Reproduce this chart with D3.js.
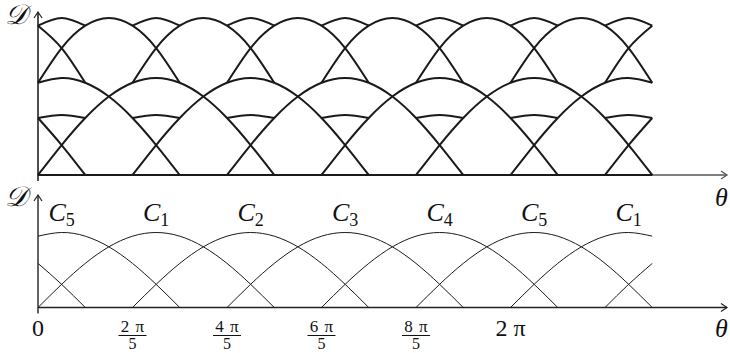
<!DOCTYPE html>
<html><head><meta charset="utf-8">
<script src="https://cdn.jsdelivr.net/npm/d3@7"></script>
<style>
html,body{margin:0;padding:0;background:#fff;}
svg{display:block;}
text{font-family:"Liberation Serif","DejaVu Serif",serif;fill:#111;}
</style></head><body>
<svg id="chart" width="730" height="353"></svg>
<script>
// Sampling step along θ (radians)
const thetaStep = Math.PI / 10;
// D for one camera over the half-turn where it sees the point, sampled every π/10
const archProfile = [0, 0.309, 0.588, 0.809, 0.951, 1, 0.951, 0.809, 0.588, 0.309, 0];
// Cameras whose visibility window overlaps the plotted range; start in π/10 steps
const archNames = ["C4", "C5", "C1", "C2", "C3", "C4", "C5", "C1", "C2"];
const archStarts = [-8, -4, 0, 4, 8, 12, 16, 20, 24];
// Plotted θ range, in π/10 steps
const thetaRange = [0, 26];
// x-axis ticks (π/10 steps) and their labels: numerator / denominator
const tickSteps = [0, 4, 8, 12, 16, 20];
const tickTop = ["0", "2 π", "4 π", "6 π", "8 π", "2 π"];
const tickBottom = ["", "5", "5", "5", "5", ""];

const svg = d3.select("#chart");

const x = d3.scaleLinear().domain([0, 2 * Math.PI]).range([38, 510.5]);
const yTop = d3.scaleLinear().domain([0, 1]).range([175, 78]);
const yBot = d3.scaleLinear().domain([0, 1]).range([307.5, 232.5]);

function archValue(i, k) {
  const j = k - archStarts[i];
  return (j >= 0 && j < archProfile.length) ? archProfile[j] : null;
}

// ---------- axes ----------
function arrowRight(g, x1, y, color, w) {
  g.append("path")
    .attr("d", `M${x1 - 6},${y - 4}L${x1},${y}L${x1 - 6},${y + 4}`)
    .attr("fill", "none").attr("stroke", color).attr("stroke-width", w);
}
function arrowUp(g, xx, y1, color, w) {
  g.append("path")
    .attr("d", `M${xx - 4},${y1 + 6}L${xx},${y1}L${xx + 4},${y1 + 6}`)
    .attr("fill", "none").attr("stroke", color).attr("stroke-width", w);
}

const axes = svg.append("g");
const x0 = x(0), xEnd = 727;

// top panel axes
axes.append("line").attr("x1", x0).attr("x2", xEnd).attr("y1", yTop(0)).attr("y2", yTop(0))
  .attr("stroke", "#555").attr("stroke-width", 1.4);
arrowRight(axes, xEnd, yTop(0), "#555", 1.3);
axes.append("line").attr("x1", x0).attr("x2", x0).attr("y1", yTop(0) + 6).attr("y2", 12)
  .attr("stroke", "#222").attr("stroke-width", 1.6);
arrowUp(axes, x0, 12, "#222", 1.2);

// bottom panel axes
axes.append("line").attr("x1", x0).attr("x2", xEnd).attr("y1", yBot(0)).attr("y2", yBot(0))
  .attr("stroke", "#222").attr("stroke-width", 1.4);
arrowRight(axes, xEnd, yBot(0), "#222", 1.2);
axes.append("line").attr("x1", x0).attr("x2", x0).attr("y1", yBot(0) + 6).attr("y2", 195)
  .attr("stroke", "#222").attr("stroke-width", 1.4);
arrowUp(axes, x0, 195, "#222", 1.2);

// ---------- bottom panel: each camera on its own ----------
const lineBot = d3.line()
  .x(d => x(d.k * thetaStep)).y(d => yBot(d.v))
  .curve(d3.curveNatural);

const botCurves = archStarts.map((s, i) => {
  const lo = Math.max(s, thetaRange[0]);
  const hi = Math.min(s + archProfile.length - 1, thetaRange[1]);
  const pts = [];
  for (let k = lo; k <= hi; k++) pts.push({ k, v: archValue(i, k) });
  return pts;
}).filter(p => p.length > 1);

svg.append("g").selectAll("path").data(botCurves).join("path")
  .attr("d", lineBot).attr("fill", "none")
  .attr("stroke", "#1a1a1a").attr("stroke-width", 1);

// ---------- top panel: every sum over a set of cameras seeing the point together ----------
const lineTop = d3.line()
  .x(d => x(d.k * thetaStep)).y(d => yTop(d.v))
  .curve(d3.curveNatural);

const topCurves = [];
const n = archStarts.length;
for (let mask = 0; mask < (1 << n); mask++) {
  let lo = thetaRange[0], hi = thetaRange[1];
  const members = [];
  for (let i = 0; i < n; i++) {
    if (mask & (1 << i)) {
      members.push(i);
      lo = Math.max(lo, archStarts[i]);
      hi = Math.min(hi, archStarts[i] + archProfile.length - 1);
    }
  }
  if (hi - lo < 1) continue;
  const pts = [];
  for (let k = lo; k <= hi; k++) {
    pts.push({ k, v: d3.sum(members, i => archValue(i, k)) });
  }
  topCurves.push(pts);
}

svg.append("g").selectAll("path").data(topCurves).join("path")
  .attr("d", lineTop).attr("fill", "none")
  .attr("stroke", "#1a1a1a").attr("stroke-width", 2)
  .attr("stroke-linejoin", "round");

// ---------- labels ----------
const labels = svg.append("g");

// camera names above each peak
archStarts.forEach((s, i) => {
  const peak = s + (archProfile.length - 1) / 2;
  if (peak < thetaRange[0] || peak > thetaRange[1]) return;
  const t = labels.append("text")
    .attr("x", x(peak * thetaStep)).attr("y", 221)
    .attr("text-anchor", "middle")
    .style("font-size", "26px").style("font-style", "italic");
  t.append("tspan").text(archNames[i].slice(0, 1));
  t.append("tspan").attr("dy", 5).style("font-size", "18px").style("font-style", "normal")
    .text(archNames[i].slice(1));
});

// x tick labels
tickSteps.forEach((k, i) => {
  const cx = x(k * thetaStep);
  if (tickBottom[i] === "") {
    labels.append("text").attr("x", cx).attr("y", 336)
      .attr("text-anchor", "middle").style("font-size", "24px")
      .text(tickTop[i]);
  } else {
    labels.append("text").attr("x", cx).attr("y", 332)
      .attr("text-anchor", "middle").style("font-size", "17px")
      .style("word-spacing", "2px")
      .text(tickTop[i]);
    labels.append("line").attr("x1", cx - 14).attr("x2", cx + 14)
      .attr("y1", 335.5).attr("y2", 335.5).attr("stroke", "#111").attr("stroke-width", 1);
    labels.append("text").attr("x", cx).attr("y", 348.5)
      .attr("text-anchor", "middle").style("font-size", "16px")
      .text(tickBottom[i]);
  }
});

// axis titles
[24, 206].forEach(yy => {
  labels.append("text").attr("x", 5).attr("y", yy)
    .style("font-size", "28px").style("font-style", "italic").text("𝒟");
});
[206, 337].forEach(yy => {
  labels.append("text").attr("x", 715).attr("y", yy)
    .style("font-size", "26px").style("font-style", "italic").text("θ");
});
</script>
</body></html>
